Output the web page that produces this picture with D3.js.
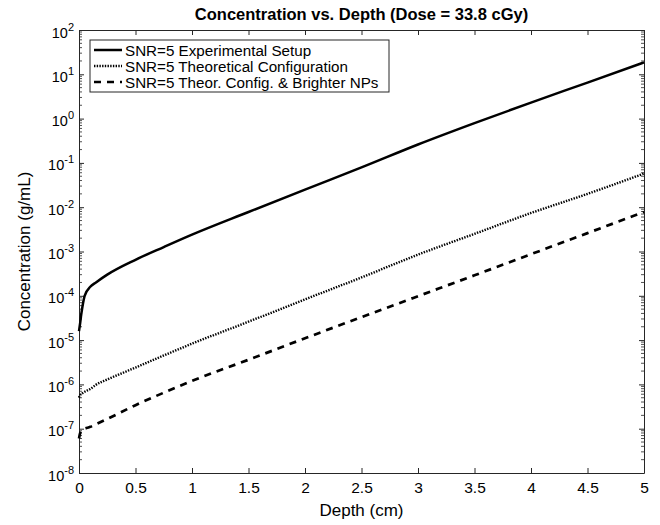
<!DOCTYPE html>
<html>
<head>
<meta charset="utf-8">
<script src="https://cdn.jsdelivr.net/npm/d3@7"></script>
<style>
  body { margin: 0; background: #fff; }
  text { font-family: "Liberation Sans", Arial, sans-serif; fill: #000; }
</style>
</head>
<body>
<div id="chart"></div>
<script>
// depth values (cm) shared by the three curves
var depth = [0, 0.01, 0.02, 0.03, 0.05, 0.1, 0.15, 0.25, 0.5, 0.75, 1, 1.5, 2, 2.5, 3, 3.5, 4, 4.5, 5];

// concentration (g/mL)
var expSetup = [1.6e-5, 2.4e-5, 3.8e-5, 5.6e-5, 1.0e-4, 1.6e-4, 2.0e-4, 3.0e-4, 6.5e-4, 1.26e-3, 2.4e-3,
    7.8e-3, 2.5e-2, 7.9e-2, 0.26, 0.79, 2.3, 6.5, 18.6];
var theorConfig = [5.0e-7, 5.75e-7, 6.0e-7, 6.3e-7, 6.8e-7, 7.9e-7, 9.8e-7, 1.29e-6, 2.4e-6, 4.5e-6, 8.3e-6,
    2.6e-5, 8.3e-5, 2.6e-4, 8.5e-4, 2.5e-3, 7.4e-3, 2.0e-2, 5.75e-2];
var brighterNPs = [6.0e-8, 7.9e-8, 8.9e-8, 9.5e-8, 1.0e-7, 1.1e-7, 1.26e-7, 1.66e-7, 3.4e-7, 6.5e-7, 1.2e-6,
    3.6e-6, 1.1e-5, 3.3e-5, 9.8e-5, 2.9e-4, 8.7e-4, 2.6e-3, 7.8e-3];

var seriesNames = ["SNR=5 Experimental Setup", "SNR=5 Theoretical Configuration", "SNR=5 Theor. Config. & Brighter NPs"];
var xTicks = [0, 0.5, 1, 1.5, 2, 2.5, 3, 3.5, 4, 4.5, 5];
var yExponents = [-8, -7, -6, -5, -4, -3, -2, -1, 0, 1, 2];

function init() {
    var w = 660, h = 525,
        margin = {top: 30, right: 16, bottom: 52, left: 79},
        width = 644 - margin.left,
        height = 473 - margin.top;

    var svg = d3.select("#chart").append("svg")
        .attr("width", w)
        .attr("height", h);

    var g = svg.append("g")
        .attr("transform", "translate(" + margin.left + "," + margin.top + ")");

    var xScale = d3.scaleLinear().domain([0, 5]).range([0, width]);
    var yScale = d3.scaleLog().domain([1e-8, 1e2]).range([height, 0]);

    var axisColor = "#262626";
    var majorY = yExponents.map(e => Math.pow(10, e));
    var minorY = [];
    yExponents.slice(0, -1).forEach(function(e) {
        for (var k = 2; k <= 9; k++) minorY.push(k * Math.pow(10, e));
    });

    // minor ticks left/right
    [0, width].forEach(function(xp, i) {
        g.append("g").selectAll("line")
            .data(minorY)
            .enter().append("line")
            .attr("x1", xp)
            .attr("x2", i === 0 ? xp + 3 : xp - 3)
            .attr("y1", d => yScale(d))
            .attr("y2", d => yScale(d))
            .attr("stroke", axisColor)
            .attr("stroke-width", 0.8);
    });

    // bottom axis
    var xAxis = d3.axisBottom(xScale).tickValues(xTicks).tickSizeInner(-5).tickSizeOuter(0)
        .tickPadding(9).tickFormat(d3.format("~g"));
    var gx = g.append("g")
        .attr("transform", "translate(0," + height + ")")
        .call(xAxis);
    gx.selectAll("text").style("font-size", "15.5px");

    // top axis, no labels
    g.append("g")
        .call(d3.axisTop(xScale).tickValues(xTicks).tickSizeInner(-5).tickSizeOuter(0).tickFormat(""));

    // left axis with 10^n labels
    var gy = g.append("g")
        .call(d3.axisLeft(yScale).tickValues(majorY).tickSizeInner(-5).tickSizeOuter(0).tickFormat(""));
    gy.selectAll(".tick").each(function(d, i) {
        var t = d3.select(this).append("text")
            .attr("x", -5)
            .attr("y", 7)
            .attr("text-anchor", "end")
            .style("font-size", "14.5px");
        t.append("tspan").text("10");
        t.append("tspan")
            .attr("dy", -7)
            .style("font-size", "11px")
            .text(yExponents[i]);
    });

    // right axis, no labels
    g.append("g")
        .attr("transform", "translate(" + width + ",0)")
        .call(d3.axisRight(yScale).tickValues(majorY).tickSizeInner(-5).tickSizeOuter(0).tickFormat(""));

    g.selectAll(".domain").attr("stroke", axisColor);
    g.selectAll(".tick line").attr("stroke", axisColor);

    // curves
    var styles = [
        {dash: null, width: 2.5},
        {dash: "1.4,1.3", width: 2.4},
        {dash: "7,6", width: 2.7}
    ];
    var seriesData = [expSetup, theorConfig, brighterNPs];

    var line = d3.line()
        .x(d => xScale(d[0]))
        .y(d => yScale(d[1]))
        .curve(d3.curveMonotoneX);

    seriesData.forEach(function(values, i) {
        var pts = depth.map((d, j) => [d, values[j]]);
        g.append("path")
            .datum(pts)
            .attr("d", line)
            .attr("fill", "none")
            .attr("stroke", "#000")
            .attr("stroke-width", styles[i].width)
            .attr("stroke-dasharray", styles[i].dash);
    });

    // title
    svg.append("text")
        .attr("x", margin.left + width / 2)
        .attr("y", 20)
        .attr("text-anchor", "middle")
        .style("font-size", "16.5px")
        .style("font-weight", "bold")
        .text("Concentration vs. Depth (Dose = 33.8 cGy)");

    // axis labels
    svg.append("text")
        .attr("x", margin.left + width / 2)
        .attr("y", 516)
        .attr("text-anchor", "middle")
        .style("font-size", "17px")
        .text("Depth (cm)");

    svg.append("text")
        .attr("transform", "rotate(-90)")
        .attr("x", -(margin.top + height / 2))
        .attr("y", 30)
        .attr("text-anchor", "middle")
        .style("font-size", "17px")
        .text("Concentration (g/mL)");

    // legend
    var legend = g.append("g")
        .attr("transform", "translate(11,10)");

    legend.append("rect")
        .attr("width", 299)
        .attr("height", 52)
        .attr("fill", "#fff")
        .attr("stroke", axisColor)
        .attr("stroke-width", 1);

    seriesNames.forEach(function(name, i) {
        var item = legend.append("g")
            .attr("transform", "translate(0," + (10 + i * 16) + ")");
        item.append("line")
            .attr("x1", 4)
            .attr("x2", 32)
            .attr("y1", 0)
            .attr("y2", 0)
            .attr("stroke", "#000")
            .attr("stroke-width", styles[i].width)
            .attr("stroke-dasharray", styles[i].dash);
        item.append("text")
            .attr("x", 35)
            .attr("y", 5.5)
            .style("font-size", "15.2px")
            .text(name);
    });
}

init();
</script>
</body>
</html>
